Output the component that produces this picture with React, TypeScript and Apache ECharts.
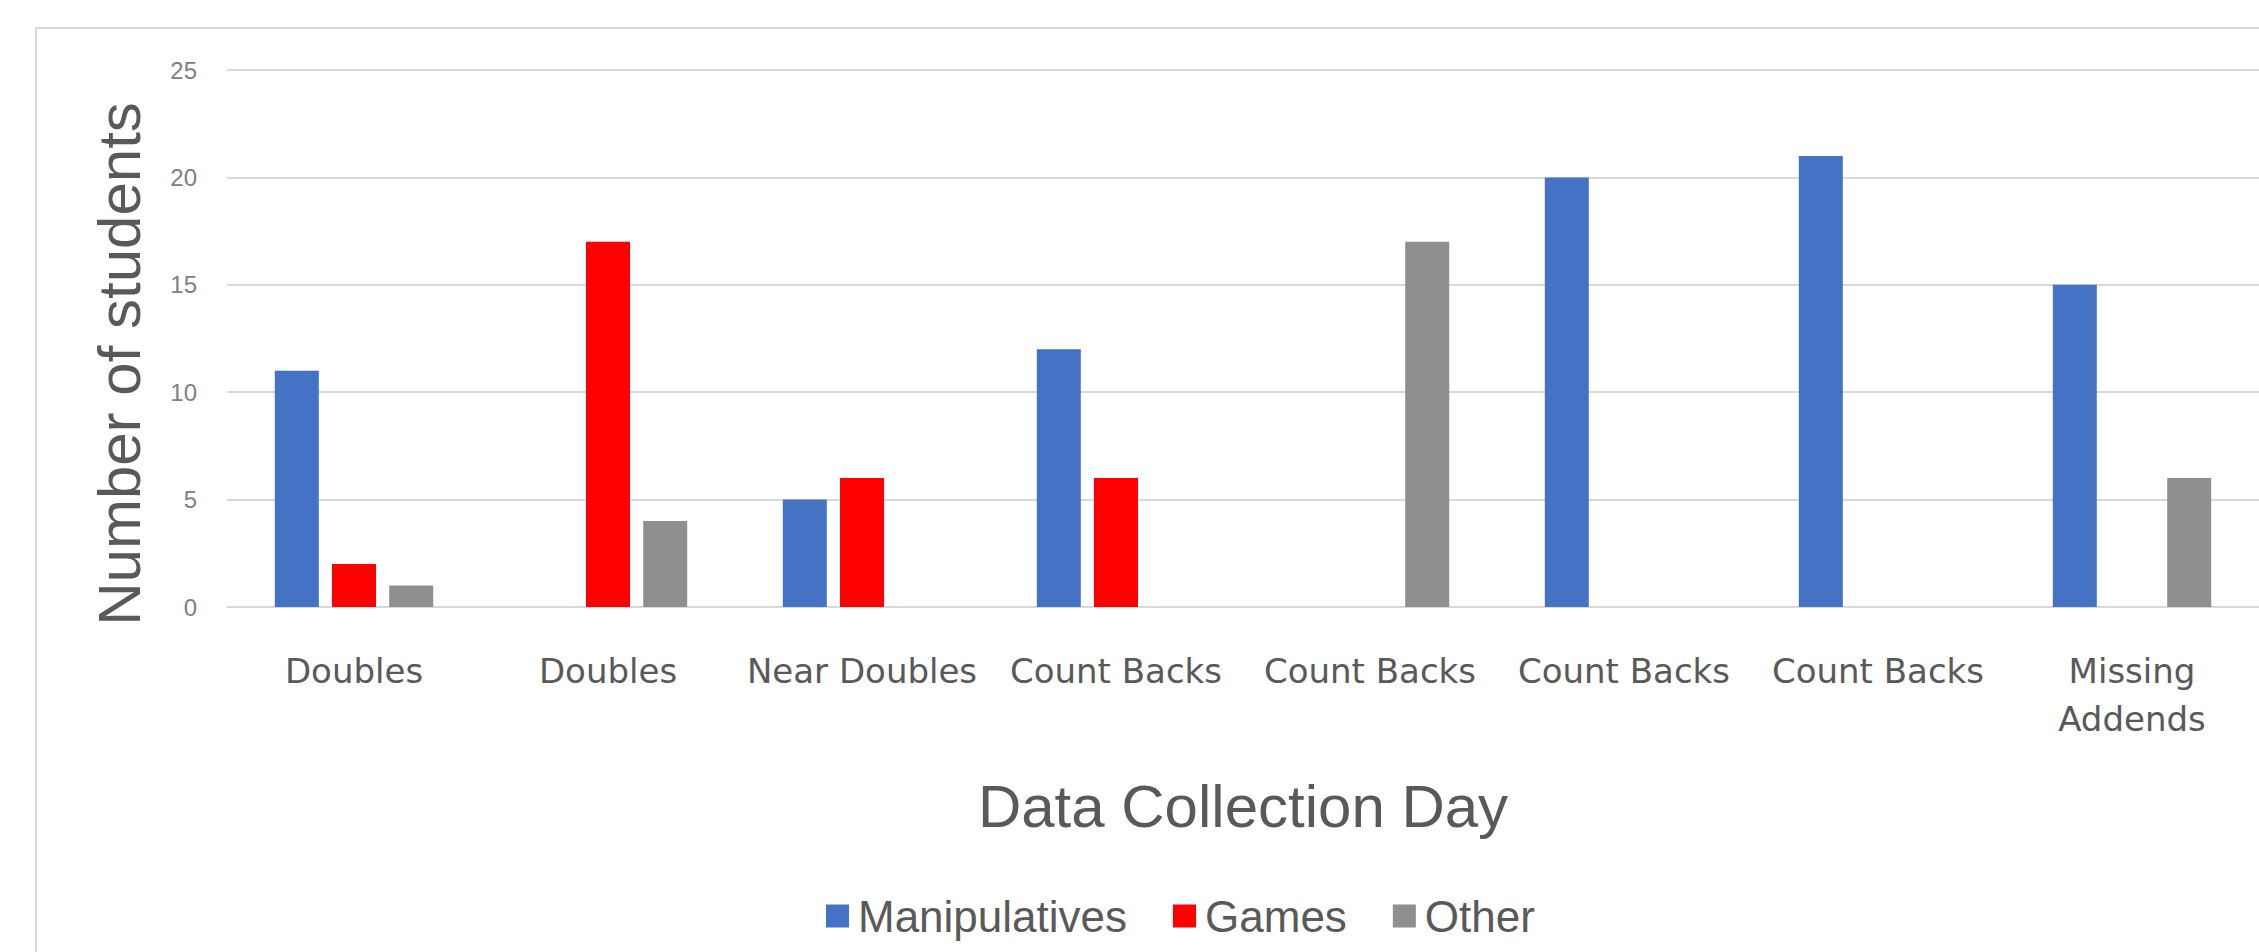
import React, { useEffect, useRef } from "react";
import * as echarts from "echarts";

const categories = [
  "Doubles",
  "Doubles",
  "Near Doubles",
  "Count Backs",
  "Count Backs",
  "Count Backs",
  "Count Backs",
  "Missing\nAddends",
];
const manipulatives = [11, 0, 5, 12, 0, 20, 21, 15];
const games = [2, 17, 6, 6, 0, 0, 0, 0];
const other = [1, 4, 0, 0, 17, 0, 0, 6];
const seriesNames = ["Manipulatives", "Games", "Other"];
const yTicks = { min: 0, max: 25, interval: 5 };

const colors = ["#4472C4", "#FF0000", "#8F8F8F"];
const toData = (arr: number[]) => arr.map((v) => (v === 0 ? null : v));

export default function App() {
  const ref = useRef<HTMLDivElement>(null);
  useEffect(() => {
    if (!ref.current) return;
    const chart = echarts.init(ref.current, undefined, { renderer: "svg" });
    const values = [manipulatives, games, other];
    chart.setOption({
      animation: false,
      backgroundColor: "#ffffff",
      color: colors,
      grid: { left: 227, right: -18, top: 70, bottom: 345, containLabel: false },
      legend: {
        left: 821,
        top: 889,
        itemWidth: 23,
        itemHeight: 23,
        itemGap: 46,
        icon: "rect",
        textStyle: {
          fontFamily: "Liberation Sans",
          fontSize: 44,
          lineHeight: 44,
          color: "#595959",
          padding: [0, 0, 0, 4],
        },
        data: seriesNames,
      },
      xAxis: {
        type: "category",
        data: categories,
        name: "Data Collection Day",
        nameLocation: "middle",
        nameGap: 169,
        nameTextStyle: { fontFamily: "Liberation Sans", fontSize: 60, color: "#595959", verticalAlign: "top" },
        axisLine: { lineStyle: { color: "#D9D9D9", width: 2 } },
        axisTick: { show: false },
        axisLabel: {
          fontFamily: "DejaVu Sans",
          fontSize: 34,
          color: "#595959",
          margin: 40,
          lineHeight: 48,
          interval: 0,
        },
      },
      yAxis: {
        type: "value",
        min: yTicks.min,
        max: yTicks.max,
        interval: yTicks.interval,
        axisLine: { show: false },
        axisTick: { show: false },
        splitLine: { lineStyle: { color: "#D9D9D9", width: 2 } },
        axisLabel: { fontFamily: "Liberation Sans", fontSize: 24, color: "#808080", margin: 30 },
      },
      graphic: [
        {
          type: "rect",
          shape: { x: 36, y: 28, width: 2400, height: 1100 },
          style: { fill: "none", stroke: "#D9D9D9", lineWidth: 2 },
          silent: true,
        },
        {
          type: "text",
          x: 119,
          y: 364,
          rotation: Math.PI / 2,
          style: {
            text: "Number of students",
            font: "60px 'Liberation Sans'",
            fill: "#595959",
            align: "center",
            verticalAlign: "middle",
          },
        },
      ],
      series: values.map((arr, i) => ({
        name: seriesNames[i],
        type: "bar",
        data: toData(arr),
        barWidth: 44,
        barGap: "30%",
      })),
    });
    return () => chart.dispose();
  }, []);
  return (
    <div style={{ position: "fixed", left: 0, top: 0, width: 2259, height: 952, overflow: "hidden", background: "#fff" }}>
      <div ref={ref} style={{ width: 2259, height: 952 }} />
    </div>
  );
}
